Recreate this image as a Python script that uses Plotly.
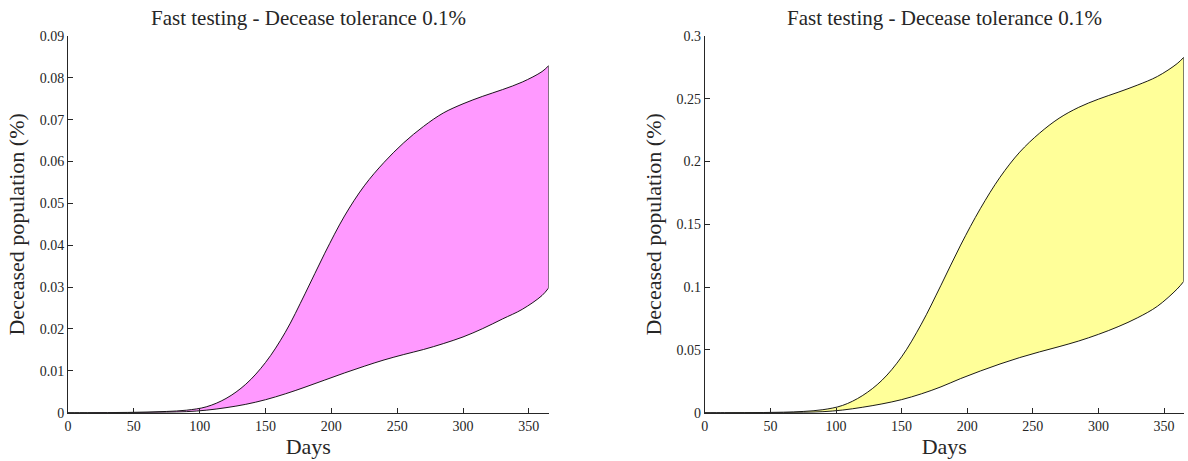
import plotly.graph_objects as go

# Simulation days at which the envelopes are sampled
days = [0, 15, 30, 45, 60, 75, 90, 105, 120, 135, 150, 165, 180, 195, 210,
        225, 240, 255, 270, 285, 300, 315, 330, 345, 360, 365]

# Left panel: deceased population envelope (%)
left_upper = [0, 0.00001, 0.00003, 0.00007, 0.00015, 0.0003, 0.0006, 0.0014,
              0.0034, 0.0068, 0.012, 0.0192, 0.0284, 0.0381, 0.047, 0.0542,
              0.0598, 0.0645, 0.0684, 0.0716, 0.0738, 0.0756, 0.0772, 0.079,
              0.0815, 0.0829]
left_lower = [0, 0.000005, 0.00001, 0.00003, 0.00006, 0.00012, 0.00025, 0.0006,
              0.0012, 0.002, 0.0031, 0.0045, 0.0061, 0.0078, 0.0095, 0.0111,
              0.0126, 0.0139, 0.0151, 0.0165, 0.0181, 0.0201, 0.0224, 0.0247,
              0.028, 0.0298]

# Right panel: deceased population envelope (%)
right_upper = [0, 0.00002, 0.00006, 0.00015, 0.0004, 0.001, 0.0024, 0.0058,
               0.0135, 0.0258, 0.0445, 0.0705, 0.1015, 0.1335, 0.1625, 0.1875,
               0.2075, 0.2225, 0.2345, 0.2432, 0.2497, 0.2552, 0.261, 0.2678,
               0.278, 0.283]
right_lower = [0, 0.000005, 0.00002, 0.00005, 0.00012, 0.0003, 0.0008, 0.0021,
               0.0043, 0.007, 0.0104, 0.015, 0.0206, 0.0272, 0.0332, 0.0388,
               0.0439, 0.0484, 0.0526, 0.0571, 0.0624, 0.0685, 0.0757, 0.0848,
               0.0985, 0.1045]

title_text = "Fast testing - Decease tolerance 0.1%"
x_ticks = [0, 50, 100, 150, 200, 250, 300, 350]
left_yticks = [0, 0.01, 0.02, 0.03, 0.04, 0.05, 0.06, 0.07, 0.08, 0.09]
right_yticks = [0, 0.05, 0.1, 0.15, 0.2, 0.25, 0.3]

FONT = "Liberation Serif"
AXIS_COLOR = "#262626"
EDGE = dict(color="black", width=0.9, shape="spline", smoothing=1.0)

fig = go.Figure()


def add_band(lower, upper, fill, xa, ya):
    fig.add_trace(go.Scatter(x=days, y=lower, mode="lines", line=EDGE,
                             xaxis=xa, yaxis=ya, showlegend=False, hoverinfo="skip"))
    fig.add_trace(go.Scatter(x=days, y=upper, mode="lines", fill="tonexty",
                             fillcolor=fill, line=EDGE,
                             xaxis=xa, yaxis=ya, showlegend=False, hoverinfo="skip"))
    # closing edge of the band at the final day
    fig.add_trace(go.Scatter(x=[days[-1], days[-1]], y=[lower[-1], upper[-1]],
                             mode="lines", line=dict(color="black", width=0.9),
                             xaxis=xa, yaxis=ya, showlegend=False, hoverinfo="skip"))


add_band(left_lower, left_upper, "#FF99FF", "x", "y")
add_band(right_lower, right_upper, "#FFFF99", "x2", "y2")

W, H = 1188, 461
ydom = [(H - 412.7) / H, (H - 36) / H]
xdom1 = [68 / W, 548.6 / W]
xdom2 = [704.8 / W, 1183.7 / W]

axis_common = dict(showgrid=False, zeroline=False, showline=True,
                   linecolor=AXIS_COLOR, linewidth=1, ticks="inside",
                   ticklen=5, tickwidth=1, tickcolor=AXIS_COLOR,
                   automargin=False,
                   tickfont=dict(family=FONT, size=14, color="#262626"))
title_font = dict(family=FONT, size=22, color="#262626")

fig.update_layout(
    template="none",
    width=W, height=H,
    margin=dict(l=0, r=0, t=0, b=0),
    paper_bgcolor="white", plot_bgcolor="white",
    font=dict(family=FONT, color="#262626"),
    xaxis=dict(domain=xdom1, range=[0, 365], tickvals=x_ticks, anchor="y",
               title=dict(text="Days", font=title_font, standoff=6),
               **axis_common),
    yaxis=dict(domain=ydom, range=[0, 0.09], tickvals=left_yticks,
               ticktext=[f"{v:g}" for v in left_yticks], anchor="x",
               title=dict(text="Deceased population (%)", font=title_font, standoff=8),
               **axis_common),
    xaxis2=dict(domain=xdom2, range=[0, 365], tickvals=x_ticks, anchor="y2",
                title=dict(text="Days", font=title_font, standoff=6),
                **axis_common),
    yaxis2=dict(domain=ydom, range=[0, 0.3], tickvals=right_yticks,
                ticktext=[f"{v:g}" for v in right_yticks], anchor="x2",
                title=dict(text="Deceased population (%)", font=title_font, standoff=8),
                **axis_common),
    annotations=[
        dict(text=title_text, x=(xdom1[0] + xdom1[1]) / 2, y=1 - 18 / H,
             xref="paper", yref="paper", showarrow=False,
             font=dict(family=FONT, size=21, color="#262626"),
             xanchor="center", yanchor="middle"),
        dict(text=title_text, x=(xdom2[0] + xdom2[1]) / 2, y=1 - 18 / H,
             xref="paper", yref="paper", showarrow=False,
             font=dict(family=FONT, size=21, color="#262626"),
             xanchor="center", yanchor="middle"),
    ],
)

fig.write_html("out.html")
